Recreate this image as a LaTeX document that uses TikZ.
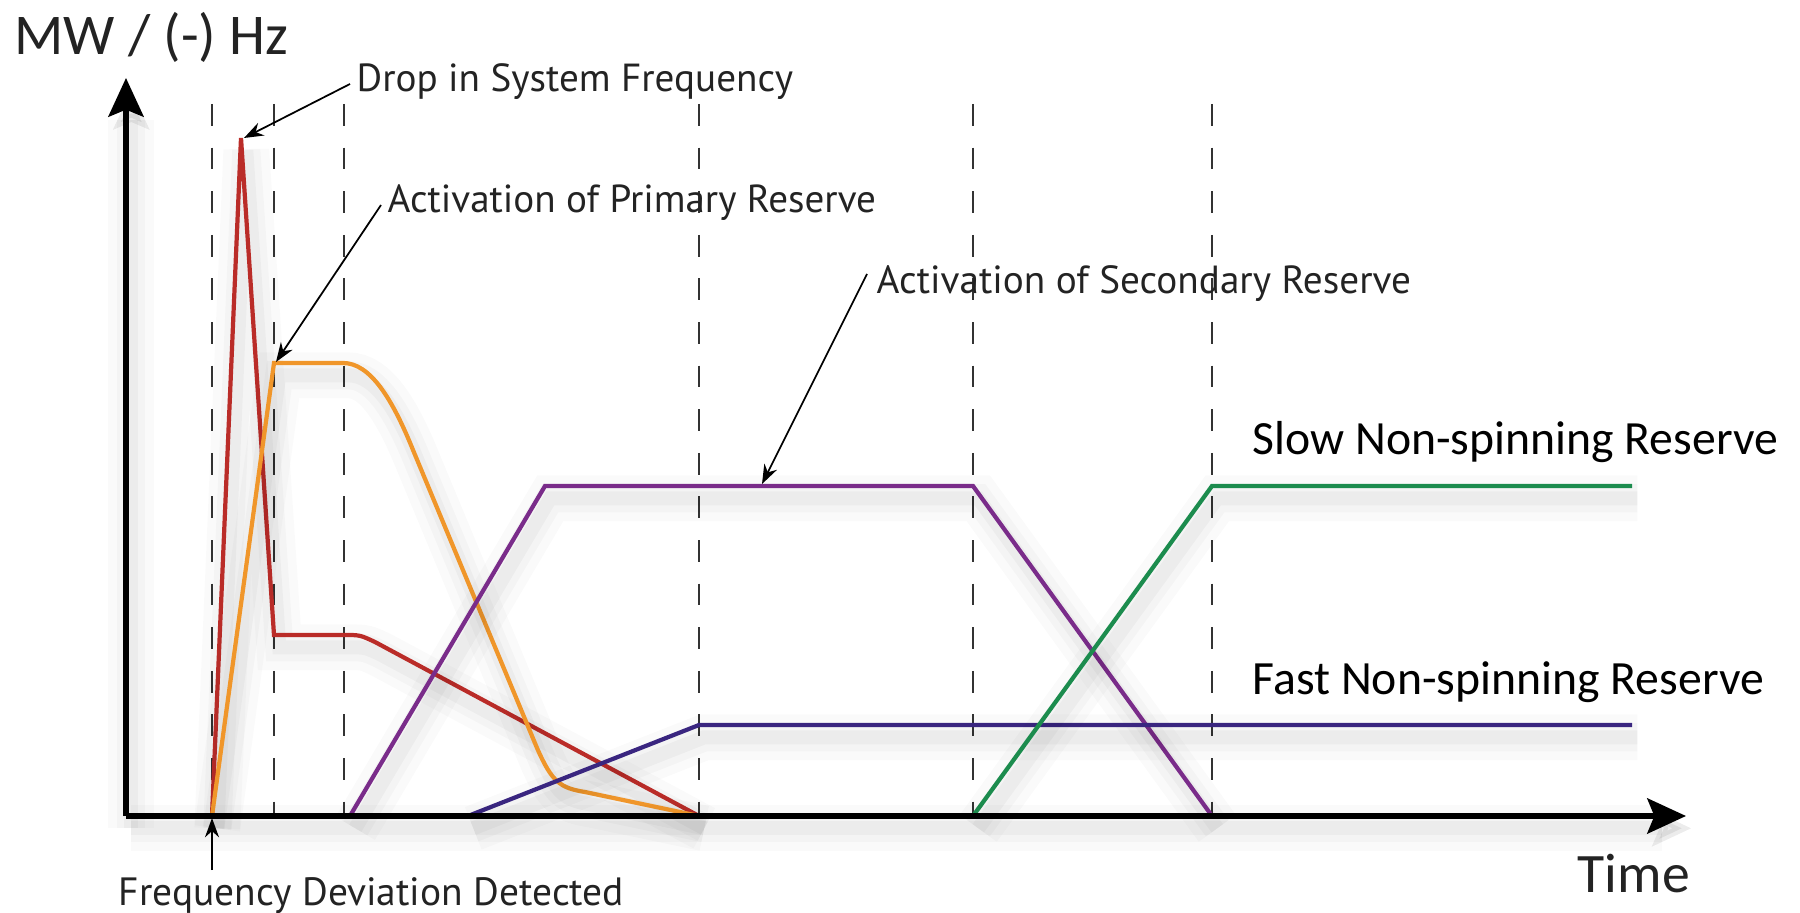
\documentclass[tikz,border=0pt]{standalone}
\usepackage{fontspec}
\setmainfont{Carlito}
\newfontfamily\mya{PT Sans}
\usetikzlibrary{arrows.meta}
\definecolor{cred}{RGB}{186,44,40}
\definecolor{corange}{RGB}{240,150,42}
\definecolor{cpurple}{RGB}{122,44,138}
\definecolor{cindigo}{RGB}{58,38,128}
\definecolor{cgreen}{RGB}{28,140,78}
\definecolor{ctext}{RGB}{35,35,35}
\newcommand{\fitw}[2]{\resizebox{#1}{!}{#2}}
\tikzset{
  shadowed/.style={
    preaction={draw=black, opacity=0.02, line width=13pt, transform canvas={xshift=1.5pt,yshift=-3.5pt}},
    preaction={draw=black, opacity=0.025, line width=8pt, transform canvas={xshift=1.5pt,yshift=-3.5pt}},
    preaction={draw=black, opacity=0.03, line width=4pt, transform canvas={xshift=1.5pt,yshift=-3.5pt}}},
  axisline/.style={line width=1.5pt, draw=black, -{Stealth[length=11pt,width=10pt,inset=2pt]}},
  dashline/.style={line width=0.55pt, draw=black!80, dash pattern=on 6.2pt off 6.2pt},
  curve/.style={line width=1.2pt, line join=miter, shadowed},
  leader/.style={line width=0.5pt, draw=black, -{Stealth[length=5.5pt,width=4pt]}},
  lbl/.style={anchor=base west, inner sep=0pt, text=ctext, font=\mya\fontsize{12}{14}\selectfont},
  lblb/.style={anchor=base west, inner sep=0pt, text=black, font=\fontsize{13.5}{15}\selectfont},
}
\begin{document}
\begin{tikzpicture}[x=0.01cm, y=-0.01cm]
\useasboundingbox (0,0) rectangle (1800,913);
% key coordinates
\coordinate (O) at (126,816);
\coordinate (ytop) at (126,78);
\coordinate (xend) at (1686,816);
% dashed time markers
\foreach \xx/\nm in {212/a,274/b,344/c,699/d,973/e,1212/f}{
  \coordinate (top\nm) at (\xx,104);
  \coordinate (bot\nm) at (\xx,816);
  \draw[dashline] (top\nm) -- (bot\nm);
}
% curve points
\coordinate (peak) at (241,138);
\coordinate (prim) at (274,363);
% red: frequency
\draw[curve, cred] (bota) -- (peak) -- (274,635) -- (344,635) .. controls (360,635) .. (375,642) -- (botd);
% orange: primary reserve
\draw[curve, corange] (bota) -- (prim) -- (343,363) .. controls (370,363) and (392,398) .. (413,450) -- (537,748) .. controls (552,782) and (560,788) .. (585,792) -- (botd);
% purple: secondary reserve
\draw[curve, cpurple] (350,816) -- (545,486) -- (973,486) -- (botf);
% indigo: fast non-spinning
\draw[curve, cindigo] (468,816) -- (699,725) -- (1632,725);
% green: slow non-spinning
\draw[curve, cgreen] (bote) -- (1212,486) -- (1632,486);
% axes
\draw[axisline, shadowed] (O) -- (ytop);
\draw[axisline, shadowed] (O) -- (xend);
% labels
\node[anchor=base west, inner sep=0pt, text=ctext, font=\fontsize{16.4}{18}\selectfont] (ylab) at (14,55) {\fitw{2.73cm}{MW / (-) Hz}};
\node[anchor=base west, inner sep=0pt, text=ctext, font=\fontsize{17}{19}\selectfont] (xlab) at (1577,892) {\fitw{1.12cm}{Time}};
\node[lbl] (drop) at (356,92) {\fitw{4.36cm}{Drop in System Frequency}};
\node[lbl] (prl) at (387,213) {\fitw{4.88cm}{Activation of Primary Reserve}};
\node[lbl] (scl) at (876,294) {\fitw{5.34cm}{Activation of Secondary Reserve}};
\node[lbl] (fdd) at (118,905) {\fitw{5.05cm}{Frequency Deviation Detected}};
\node[lblb] (slow) at (1252,455) {\fitw{5.25cm}{Slow Non-spinning Reserve}};
\node[lblb] (fast) at (1252,695) {\fitw{5.11cm}{Fast Non-spinning Reserve}};
% leaders
\coordinate (dropS) at (350,84);
\coordinate (dropT) at (244,138);
\coordinate (prlS) at (381,205);
\coordinate (prlT) at (276,362);
\coordinate (sclS) at (867,274);
\coordinate (sclT) at (762,484);
\coordinate (fddS) at (212,870);
\coordinate (fddT) at (212,818);
\draw[leader] (dropS) -- (dropT);
\draw[leader] (prlS) -- (prlT);
\draw[leader] (sclS) -- (sclT);
\draw[leader] (fddS) -- (fddT);
\end{tikzpicture}
\end{document}
